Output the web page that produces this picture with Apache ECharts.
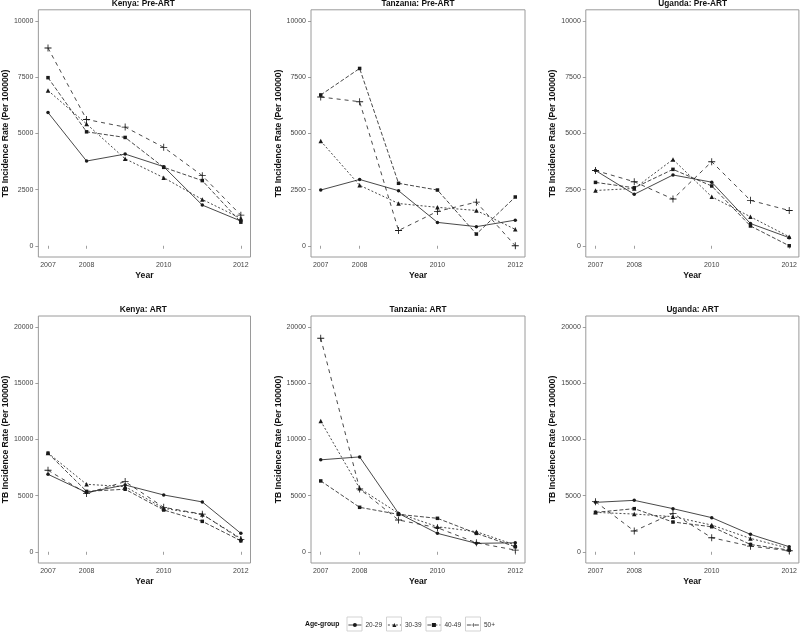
<!DOCTYPE html>
<html>
<head>
<meta charset="utf-8">
<script src="https://cdn.jsdelivr.net/npm/echarts@6/dist/echarts.min.js"></script>
<style>
html,body{margin:0;padding:0;background:#fff;}
#chart{width:800px;height:634px;}
</style>
</head>
<body>
<div id="chart"></div>
<script>
const years = [2007, 2008, 2009, 2010, 2011, 2012];
const yearLabels = [2007, 2008, 2010, 2012];
const groups = ['20-29', '30-39', '40-49', '50+'];
const panelTitles = ['Kenya: Pre-ART', 'Tanzania: Pre-ART', 'Uganda: Pre-ART', 'Kenya: ART', 'Tanzania: ART', 'Uganda: ART'];
const preArtTicks = [0, 2500, 5000, 7500, 10000];
const artTicks = [0, 5000, 10000, 15000, 20000];

// Kenya Pre-ART
const kenyaPre_20_29 = [5930, 3770, 4080, 3520, 1810, 1100];
const kenyaPre_30_39 = [6910, 5420, 3870, 3030, 2060, 1220];
const kenyaPre_40_49 = [7480, 5070, 4820, 3490, 2900, 1050];
const kenyaPre_50p   = [8800, 5620, 5280, 4380, 3120, 1360];
// Tanzania Pre-ART
const tanzPre_20_29 = [2480, 2950, 2450, 1040, 850, 1140];
const tanzPre_30_39 = [4660, 2690, 1880, 1710, 1570, 730];
const tanzPre_40_49 = [6710, 7890, 2780, 2480, 520, 2170];
const tanzPre_50p   = [6620, 6410, 680, 1530, 1940, 0];
// Uganda Pre-ART
const ugPre_20_29 = [3350, 2290, 3150, 2830, 990, 360];
const ugPre_30_39 = [2460, 2550, 3840, 2180, 1290, 400];
const ugPre_40_49 = [2820, 2580, 3400, 2660, 880, 0];
const ugPre_50p   = [3350, 2850, 2080, 3740, 2020, 1570];
// Kenya ART
const kenyaArt_20_29 = [6900, 5280, 5950, 5060, 4440, 1640];
const kenyaArt_30_39 = [8800, 6010, 5800, 3870, 3330, 1190];
const kenyaArt_40_49 = [8780, 5380, 5570, 3720, 2710, 980];
const kenyaArt_50p   = [7260, 5200, 6250, 3960, 3350, 1100];
// Tanzania ART
const tanzArt_20_29 = [8190, 8450, 3420, 1640, 750, 800];
const tanzArt_30_39 = [11640, 5650, 3420, 2230, 1790, 600];
const tanzArt_40_49 = [6310, 3960, 3330, 2980, 1640, 450];
const tanzArt_50p   = [19020, 5600, 2830, 2140, 800, 150];
// Uganda ART
const ugArt_20_29 = [4400, 4580, 3840, 3040, 1550, 450];
const ugArt_30_39 = [3510, 3360, 3130, 2380, 1190, 300];
const ugArt_40_49 = [3510, 3840, 2650, 2230, 650, 150];
const ugArt_50p   = [4460, 1850, 3420, 1250, 500, 90];

const panelData = [
  [kenyaPre_20_29, kenyaPre_30_39, kenyaPre_40_49, kenyaPre_50p],
  [tanzPre_20_29, tanzPre_30_39, tanzPre_40_49, tanzPre_50p],
  [ugPre_20_29, ugPre_30_39, ugPre_40_49, ugPre_50p],
  [kenyaArt_20_29, kenyaArt_30_39, kenyaArt_40_49, kenyaArt_50p],
  [tanzArt_20_29, tanzArt_30_39, tanzArt_40_49, tanzArt_50p],
  [ugArt_20_29, ugArt_30_39, ugArt_40_49, ugArt_50p]
];

const FONT = 'Liberation Sans, Arial, sans-serif';
const plusPath = 'path://M4.4,0H5.6V4.4H10V5.6H5.6V10H4.4V5.6H0V4.4H4.4Z';
const styles = [
  {symbol: 'circle', size: 3.5, type: 'solid'},
  {symbol: 'triangle', size: 4.5, type: [2, 2]},
  {symbol: 'rect', size: 3.5, type: [4, 2]},
  {symbol: plusPath, size: 7, type: [4, 4]}
];

const colLeft = [36, 311, 585.8];
const colWidth = [214.5, 214, 213.7];
const rowTop = [9.8, 316];
const rowHeight = [247.2, 247];

const chart = echarts.init(document.getElementById('chart'), null, {renderer: 'canvas'});
const grids = [], xAxes = [], yAxes = [], series = [], titles = [];
for (let p = 0; p < 6; p++) {
  const r = Math.floor(p / 3), c = p % 3;
  grids.push({left: colLeft[c], top: rowTop[r], width: colWidth[c], height: rowHeight[r],
    show: true, borderColor: '#9a9a9a', borderWidth: 1, backgroundColor: '#fff', containLabel: false});
  xAxes.push({
    type: 'value', gridIndex: p, min: 2006.75, max: 2012.25,
    name: 'Year', nameLocation: 'middle', nameGap: 14,
    nameTextStyle: {fontFamily: FONT, fontWeight: 'bold', fontSize: 8.6, color: '#111'},
    axisLine: {show: false},
    axisTick: {show: true, length: 3, lineStyle: {color: '#888', width: 0.8}, customValues: yearLabels},
    axisLabel: {fontFamily: FONT, fontSize: 7, color: '#444', margin: 5, customValues: yearLabels,
      formatter: v => String(v)},
    splitLine: {show: false}
  });
  const ticks = r === 0 ? preArtTicks : artTicks;
  yAxes.push({
    type: 'value', gridIndex: p,
    min: r === 0 ? -500 : -1000, max: r === 0 ? 10500 : 21000,
    name: 'TB Incidence Rate (Per 100000)', nameLocation: 'middle', nameGap: 26,
    nameTextStyle: {fontFamily: FONT, fontWeight: 'bold', fontSize: 8.6, color: '#111'},
    axisLine: {show: false},
    axisTick: {show: true, length: 3, lineStyle: {color: '#888', width: 0.8}, customValues: ticks},
    axisLabel: {fontFamily: FONT, fontSize: 7, color: '#444', margin: 5, customValues: ticks,
      formatter: v => String(v)},
    splitLine: {show: false}
  });
  titles.push({
    text: panelTitles[p], left: colLeft[c] + colWidth[c] / 2, top: r === 0 ? -0.5 : 305.5,
    textAlign: 'center', padding: 0,
    textStyle: {fontFamily: FONT, fontWeight: 'bold', fontSize: 8.3, color: '#111'}
  });
  for (let g = 0; g < 4; g++) {
    const vals = panelData[p][g];
    series.push({
      name: groups[g], type: 'line', xAxisIndex: p, yAxisIndex: p,
      data: years.map((y, i) => [y, vals[i]]),
      symbol: styles[g].symbol, symbolSize: styles[g].size, showSymbol: true,
      lineStyle: {color: '#1a1a1a', width: 0.8, type: styles[g].type},
      itemStyle: {color: '#1a1a1a', borderWidth: 0},
      emphasis: {disabled: true}, animation: false
    });
  }
}

// legend: one legend per key, each key sits in a light box
const keyLefts = [347, 386.5, 426, 465.5];
const keyTop = 617, keySize = 14;
const legends = groups.map((g, i) => ({
  data: [g], left: keyLefts[i] + 1, top: keyTop + (keySize - 5) / 2, orient: 'horizontal',
  itemWidth: 13, itemHeight: 5, padding: 0, itemGap: 0,
  lineStyle: {width: 0.8, color: '#1a1a1a', type: styles[i].type},
  itemStyle: {color: '#1a1a1a', borderWidth: 0},
  textStyle: {fontFamily: FONT, fontSize: 6.5, color: '#333', padding: [0, 0, 0, -1]},
  selectedMode: false
}));
const boxes = keyLefts.map(x => ({
  type: 'rect', shape: {x: x, y: keyTop, width: 15, height: keySize},
  style: {fill: 'none', stroke: '#c8c8c8', lineWidth: 0.8}, silent: true, z: -1
}));

option = {
  animation: false,
  backgroundColor: '#fff',
  title: titles,
  grid: grids, xAxis: xAxes, yAxis: yAxes, series: series,
  legend: legends,
  graphic: [
    {type: 'text', left: 305, top: 620.5, style: {text: 'Age-group', font: 'bold 6.8px Liberation Sans, Arial', fill: '#111'}}
  ].concat(boxes)
};
chart.setOption(option);
</script>
</body>
</html>
